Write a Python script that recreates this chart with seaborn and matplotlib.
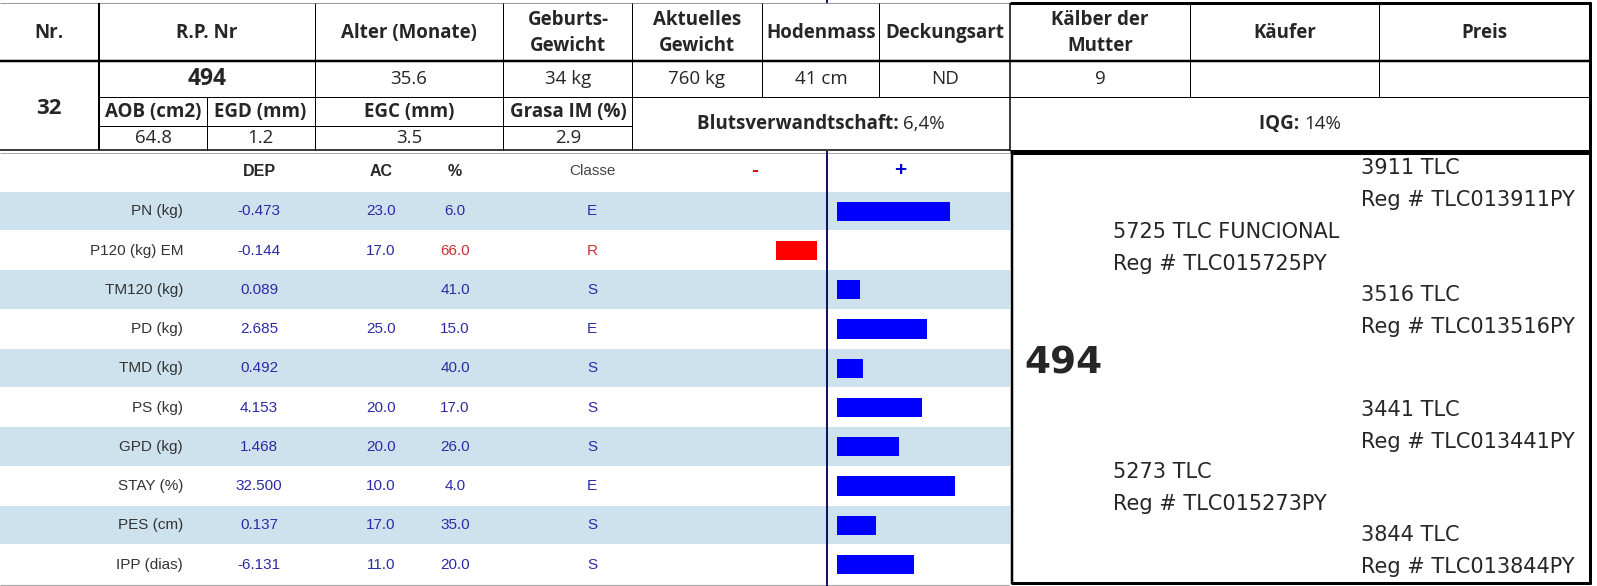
import numpy as np
import pandas as pd
import matplotlib
matplotlib.use('Agg')
import matplotlib.pyplot as plt
import seaborn as sns

# header block (sale catalogue sheet)
head_labels = ['Nr.', 'R.P. Nr', 'Alter (Monate)', 'Geburts-\nGewicht',
               'Aktuelles\nGewicht', 'Hodenmass', 'Deckungsart',
               'Kälber der\nMutter', 'Käufer', 'Preis']
head_values = ['32', '494', '35.6', '34 kg', '760 kg', '41 cm', 'ND', '9',
               '', '']
carcass_labels = ['AOB (cm2)', 'EGD (mm)', 'EGC (mm)', 'Grasa IM (%)']
carcass_values = ['64.8', '1.2', '3.5', '2.9']
coancestry = '6,4%'
iqg = '14%'

# EPD block
traits = ['PN (kg)', 'P120 (kg) EM', 'TM120 (kg)', 'PD (kg)', 'TMD (kg)',
          'PS (kg)', 'GPD (kg)', 'STAY (%)', 'PES (cm)', 'IPP (dias)']
dep = [-0.473, -0.144, 0.089, 2.685, 0.492, 4.153, 1.468, 32.500, 0.137,
       -6.131]
ac = [23.0, 17.0, np.nan, 25.0, np.nan, 20.0, 20.0, 10.0, 17.0, 11.0]
pct = [6.0, 66.0, 41.0, 15.0, 40.0, 17.0, 26.0, 4.0, 35.0, 20.0]
classe = ['E', 'R', 'S', 'E', 'S', 'S', 'S', 'E', 'S', 'S']
bar_score = [44, -16, 9, 35, 10, 33, 24, 46, 15, 30]

# pedigree
animal = '494'
ped_names = ['3911 TLC', '5725 TLC FUNCIONAL', '3516 TLC', '3441 TLC',
             '5273 TLC', '3844 TLC']
ped_regs = ['TLC013911PY', 'TLC015725PY', 'TLC013516PY', 'TLC013441PY',
            'TLC015273PY', 'TLC013844PY']

# styles
sns.set_style('white')
plt.rcParams['font.family'] = ['DejaVu Sans']
head_font = 'Open Sans'
epd_font = 'Liberation Sans'
band = '#cee2ed'
navy = '#12125e'
val_blue = '#2b2ba8'
val_red = '#c83232'

W, H = 1597, 586
fig = plt.figure(figsize=(W / 100, H / 100), dpi=100)
ax = fig.add_axes([0, 0, 1, 1])
ax.set_xlim(0, W)
ax.set_ylim(H, 0)
ax.axis('off')


def hline(y, x0, x1, px=1, color='k'):
    ax.plot([x0, x1], [y, y], color=color, lw=px * 0.72,
            solid_capstyle='butt')


def vline(x, y0, y1, px=1, color='k'):
    ax.plot([x, x], [y0, y1], color=color, lw=px * 0.72,
            solid_capstyle='butt')


def mixed_text(x, y, bold, regular, size):
    r = fig.canvas.get_renderer()
    t1 = ax.text(0, y, bold, fontweight='bold', fontsize=size,
                 family=head_font, va='center')
    t2 = ax.text(0, y, regular, fontsize=size, family=head_font,
                 va='center')
    w1 = t1.get_window_extent(r).width
    w2 = t2.get_window_extent(r).width
    x0 = x - (w1 + w2) / 2
    t1.set_x(x0)
    t2.set_x(x0 + w1)


# ---- header grid
hline(3, 0, 1010, 1, '#999999')
hline(3, 1010, 1591, 3)
hline(61, 0, 1591, 2.5)
hline(97, 99, 1591, 1)
hline(126, 99, 632, 1)
hline(150, 0, 1010, 1.5)
hline(152.5, 0, 1010, 1, '#aaaaaa')
hline(151, 1010, 1591, 3)
for x in [315, 503, 632]:
    vline(x, 3, 150)
for x in [762, 879, 1190, 1379]:
    vline(x, 3, 97)
vline(99, 3, 150, 2)
vline(207, 97, 150)
vline(1010, 3, 151, 1.5)
vline(1589.5, 2, 584, 3)

# header labels / values
hs = 13.5
col_x = [49, 207, 409, 568, 697, 821, 945, 1100, 1285, 1484]
for x, lab, val in zip(col_x, head_labels, head_values):
    ax.text(x, 33, lab, ha='center', va='center', fontsize=hs,
            fontweight='bold', family=head_font, linespacing=1.45)
    if lab == 'Nr.':
        ax.text(x, 109, val, ha='center', va='center', fontsize=16,
                fontweight='bold', family=head_font)
    elif lab == 'R.P. Nr':
        ax.text(x, 79, val, ha='center', va='center', fontsize=16.5,
                fontweight='bold', family=head_font)
    else:
        ax.text(x, 79, val, ha='center', va='center', fontsize=hs,
                family=head_font)
for x, lab, val in zip([153, 260, 409, 568], carcass_labels, carcass_values):
    ax.text(x, 112, lab, ha='center', va='center', fontsize=hs,
            fontweight='bold', family=head_font)
    ax.text(x, 138, val, ha='center', va='center', fontsize=hs,
            family=head_font)
mixed_text(821, 124, 'Blutsverwandtschaft: ', coancestry, hs)
mixed_text(1300, 124, 'IQG: ', iqg, hs)

# ---- EPD table
rows_top, pitch = 191.7, 39.25
n = len(traits)
for i in range(0, n, 2):
    ax.add_patch(plt.Rectangle((0, rows_top + i * pitch), 1010, pitch - 0.8,
                               color=band, lw=0, zorder=0))
hline(585, 0, 1010, 1.2, '#aaaaaa')

epd_x = dict(label=183, dep=259, ac=381, pct=455, cls=592)
hy = 171
for key, txt in [('dep', 'DEP'), ('ac', 'AC'), ('pct', '%')]:
    ax.text(epd_x[key], hy, txt, ha='center', va='center', fontsize=11.5,
            fontweight='bold', family=epd_font)
ax.text(epd_x['cls'], hy, 'Classe', ha='center', va='center', fontsize=11,
        color='#444444', family=epd_font)
ax.text(755, hy - 1, '-', ha='center', va='center', fontsize=15,
        fontweight='bold', color='#dd0000', family=epd_font)
ax.text(900, hy - 1, '+', ha='center', va='center', fontsize=15,
        fontweight='bold', color='#0000cc', family=epd_font)

for i in range(n):
    y = rows_top + (i + 0.5) * pitch
    bad = classe[i] == 'R'
    kw = dict(va='center', fontsize=11, family=epd_font)
    ax.text(epd_x['label'], y, traits[i], ha='right', color='#333333', **kw)
    ax.text(epd_x['dep'], y, '{:.3f}'.format(dep[i]), ha='center',
            color=val_blue, **kw)
    if not np.isnan(ac[i]):
        ax.text(epd_x['ac'], y, '{:.1f}'.format(ac[i]), ha='center',
                color=val_blue, **kw)
    ax.text(epd_x['pct'], y, '{:.1f}'.format(pct[i]), ha='center',
            color=val_red if bad else val_blue, **kw)
    ax.text(epd_x['cls'], y, classe[i], ha='center',
            color=val_red if bad else val_blue, **kw)

# divider of the +/- bar chart
vline(827, 151, 586, 2, navy)
vline(827, 0, 3, 2, navy)

# bars
px_per_unit = 2.57
zero_px = 827
gap = 10 / px_per_unit
xmin, xmax = -50, 67
left = zero_px + xmin * px_per_unit
bax = fig.add_axes([left / W, (H - rows_top - n * pitch) / H,
                    (xmax - xmin) * px_per_unit / W, n * pitch / H])
bax.patch.set_alpha(0)
df = pd.DataFrame({'trait': traits, 'score': bar_score})
colors = {t: ('#0000ff' if s > 0 else '#ff0000')
          for t, s in zip(traits, bar_score)}
sns.barplot(data=df, x='score', y='trait', hue='trait', palette=colors,
            legend=False, saturation=1, width=0.49, orient='h', ax=bax,
            linewidth=0)
for p in bax.patches:
    p.set_x(p.get_x() + gap * np.sign(p.get_width()))
bax.set_xlim(xmin, xmax)
bax.set_ylim(n - 0.5, -0.5)
bax.axis('off')

# ---- pedigree box
hline(152.5, 1011, 1591, 3)
hline(582.5, 1011, 1591, 3)
vline(1012, 151, 584, 2.5)
ax.text(1024, 364, animal, ha='left', va='center', fontsize=27,
        fontweight='bold', family='DejaVu Sans')
gen_x = [1361, 1113, 1361, 1361, 1113, 1361]
gen_y = [168, 232, 295, 410, 472, 535]
for x, y, name, reg in zip(gen_x, gen_y, ped_names, ped_regs):
    ax.text(x, y, name, ha='left', va='center', fontsize=15,
            family='DejaVu Sans')
    ax.text(x, y + 32, 'Reg # ' + reg, ha='left', va='center', fontsize=15,
            family='DejaVu Sans')

fig.savefig('out.png', dpi=100)
